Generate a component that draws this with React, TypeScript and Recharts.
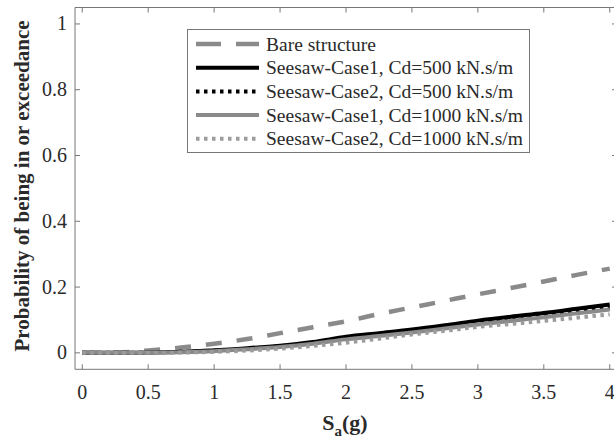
import { Line, LineChart, XAxis, YAxis } from 'recharts';

// Spectral acceleration Sa (g)
const saValues = [0, 0.25, 0.5, 0.75, 1, 1.25, 1.5, 1.75, 2, 2.25, 2.5, 2.75, 3, 3.25, 3.5, 3.75, 4];

// Probability of being in or exceeding the damage state
const bareStructure = [0, 0.001, 0.007, 0.016, 0.028, 0.042, 0.06, 0.078, 0.096, 0.118, 0.138, 0.158, 0.178, 0.197, 0.217, 0.237, 0.256];
const case1Cd500 = [0, 0, 0.001, 0.003, 0.008, 0.014, 0.022, 0.033, 0.049, 0.06, 0.071, 0.084, 0.098, 0.11, 0.121, 0.134, 0.147];
const case2Cd500 = [0, 0, 0.001, 0.003, 0.006, 0.012, 0.02, 0.03, 0.044, 0.054, 0.065, 0.077, 0.09, 0.101, 0.112, 0.125, 0.137];
const case1Cd1000 = [0, 0, 0.001, 0.002, 0.005, 0.011, 0.018, 0.028, 0.041, 0.051, 0.062, 0.074, 0.086, 0.097, 0.108, 0.12, 0.132];
const case2Cd1000 = [0, 0, 0, 0.001, 0.003, 0.007, 0.013, 0.021, 0.031, 0.043, 0.056, 0.067, 0.079, 0.088, 0.097, 0.107, 0.117];

const xTicks = [0, 0.5, 1, 1.5, 2, 2.5, 3, 3.5, 4];
const yTicks = [0, 0.2, 0.4, 0.6, 0.8, 1];

const data = saValues.map((sa, i) => ({
  sa,
  bare: bareStructure[i],
  c1500: case1Cd500[i],
  c2500: case2Cd500[i],
  c11000: case1Cd1000[i],
  c21000: case2Cd1000[i],
}));

const SERIES = [
  { key: 'bare', name: 'Bare structure', stroke: '#8a8a8a', width: 4.5, dash: '16 15' },
  { key: 'c1500', name: 'Seesaw-Case1, Cd=500 kN.s/m', stroke: '#000000', width: 4, dash: undefined },
  { key: 'c2500', name: 'Seesaw-Case2, Cd=500 kN.s/m', stroke: '#000000', width: 4, dash: '3.5 4.5' },
  { key: 'c11000', name: 'Seesaw-Case1, Cd=1000 kN.s/m', stroke: '#8a8a8a', width: 4, dash: undefined },
  { key: 'c21000', name: 'Seesaw-Case2, Cd=1000 kN.s/m', stroke: '#9c9c9c', width: 4, dash: '3.5 4.5' },
];

const FONT = "'Liberation Serif', 'Times New Roman', serif";
const AXIS_COLOR = '#777777';
const TEXT_COLOR = '#2a2a2a';
const TICK_LEN = 5;
const TICK_FONT = 20;
const X_DOMAIN = [-0.055, 4.055];
const Y_DOMAIN = [-0.05, 1.05];
const serif = { fontFamily: FONT };

const fmt = (v: number) => String(Number(v.toFixed(2)));

// tickSize/tickMargin are 0, so (x, y) sits on the axis line itself
function BottomTick(props: any) {
  const { x, y, payload } = props;
  return (
    <g>
      <line x1={x} y1={y} x2={x} y2={y - TICK_LEN} stroke={AXIS_COLOR} strokeWidth={1} />
      <text x={x} y={y + 30} textAnchor="middle" style={serif} fontSize={TICK_FONT} fill={TEXT_COLOR}>
        {fmt(payload.value)}
      </text>
    </g>
  );
}

function LeftTick(props: any) {
  const { x, y, payload } = props;
  return (
    <g>
      <line x1={x} y1={y} x2={x + TICK_LEN} y2={y} stroke={AXIS_COLOR} strokeWidth={1} />
      <text x={x - 8} y={y + 6.5} textAnchor="end" style={serif} fontSize={TICK_FONT} fill={TEXT_COLOR}>
        {fmt(payload.value)}
      </text>
    </g>
  );
}

function TopTick(props: any) {
  const { x, y } = props;
  return <line x1={x} y1={y} x2={x} y2={y + TICK_LEN} stroke={AXIS_COLOR} strokeWidth={1} />;
}

function RightTick(props: any) {
  const { x, y } = props;
  return <line x1={x} y1={y} x2={x - TICK_LEN} y2={y} stroke={AXIS_COLOR} strokeWidth={1} />;
}

function XLabel() {
  return (
    <text x={345} y={430} textAnchor="middle" style={serif} fontSize={22} fontWeight="bold" fill={TEXT_COLOR}>
      <tspan>S</tspan>
      <tspan dy={6} fontSize={15}>a</tspan>
      <tspan dy={-6}>(g)</tspan>
    </text>
  );
}

function YLabel() {
  return (
    <text
      x={0}
      y={0}
      transform="translate(29, 186) rotate(-90)"
      textAnchor="middle"
      style={serif}
      fontSize={21}
      fontWeight="bold"
      fill={TEXT_COLOR}
    >
      Probability of being in or exceedance
    </text>
  );
}

// legend box drawn over the plot, upper middle
function LegendBox() {
  const rowGap = 23.7;
  return (
    <div
      style={{
        position: 'absolute',
        left: 187,
        top: 29,
        width: 343,
        height: 124,
        border: `1px solid ${AXIS_COLOR}`,
        background: '#fff',
        boxSizing: 'border-box',
      }}
    >
      <svg width={341} height={122} style={{ display: 'block' }}>
        {SERIES.map((s, i) => {
          const cy = 14 + i * rowGap;
          return (
            <g key={s.key}>
              <line
                x1={8}
                x2={71}
                y1={cy}
                y2={cy}
                stroke={s.stroke}
                strokeWidth={s.width}
                strokeDasharray={s.key === 'bare' ? '25 15' : s.dash}
              />
              <text x={78} y={cy + 6.5} style={serif} fontSize={19.5} fill={TEXT_COLOR}>
                {s.name}
              </text>
            </g>
          );
        })}
      </svg>
    </div>
  );
}

export default function App() {
  return (
    <div
      style={{
        position: 'absolute',
        left: 0,
        top: 0,
        width: 614,
        height: 442,
        overflow: 'hidden',
        background: '#fff',
        fontFamily: FONT,
      }}
    >
      <LineChart
        width={640}
        height={442}
        data={data}
        margin={{ top: 2.5, right: 18, bottom: 42.7, left: 15 }}
        style={serif}
      >
        <XAxis
          dataKey="sa"
          type="number"
          domain={X_DOMAIN}
          ticks={xTicks}
          allowDataOverflow
          height={30}
          tickSize={0}
          tickMargin={0}
          tickLine={false}
          axisLine={{ stroke: AXIS_COLOR }}
          tick={BottomTick}
          interval={0}
          label={XLabel}
        />
        <XAxis
          xAxisId="top"
          orientation="top"
          dataKey="sa"
          type="number"
          domain={X_DOMAIN}
          ticks={xTicks}
          allowDataOverflow
          height={5}
          tickSize={0}
          tickMargin={0}
          tickLine={false}
          axisLine={{ stroke: AXIS_COLOR }}
          tick={TopTick}
          interval={0}
        />
        <YAxis
          type="number"
          domain={Y_DOMAIN}
          ticks={yTicks}
          allowDataOverflow
          width={60}
          tickSize={0}
          tickMargin={0}
          tickLine={false}
          axisLine={{ stroke: AXIS_COLOR }}
          tick={LeftTick}
          interval={0}
          label={YLabel}
        />
        <YAxis
          yAxisId="right"
          orientation="right"
          type="number"
          domain={Y_DOMAIN}
          ticks={yTicks}
          allowDataOverflow
          width={5}
          tickSize={0}
          tickMargin={0}
          tickLine={false}
          axisLine={{ stroke: AXIS_COLOR }}
          tick={RightTick}
          interval={0}
        />
        {SERIES.map((s) => (
          <Line
            key={s.key}
            type="monotone"
            dataKey={s.key}
            name={s.name}
            stroke={s.stroke}
            strokeWidth={s.width}
            strokeDasharray={s.dash}
            strokeLinecap="butt"
            dot={false}
            activeDot={false}
            isAnimationActive={false}
          />
        ))}
      </LineChart>
      <LegendBox />
    </div>
  );
}
